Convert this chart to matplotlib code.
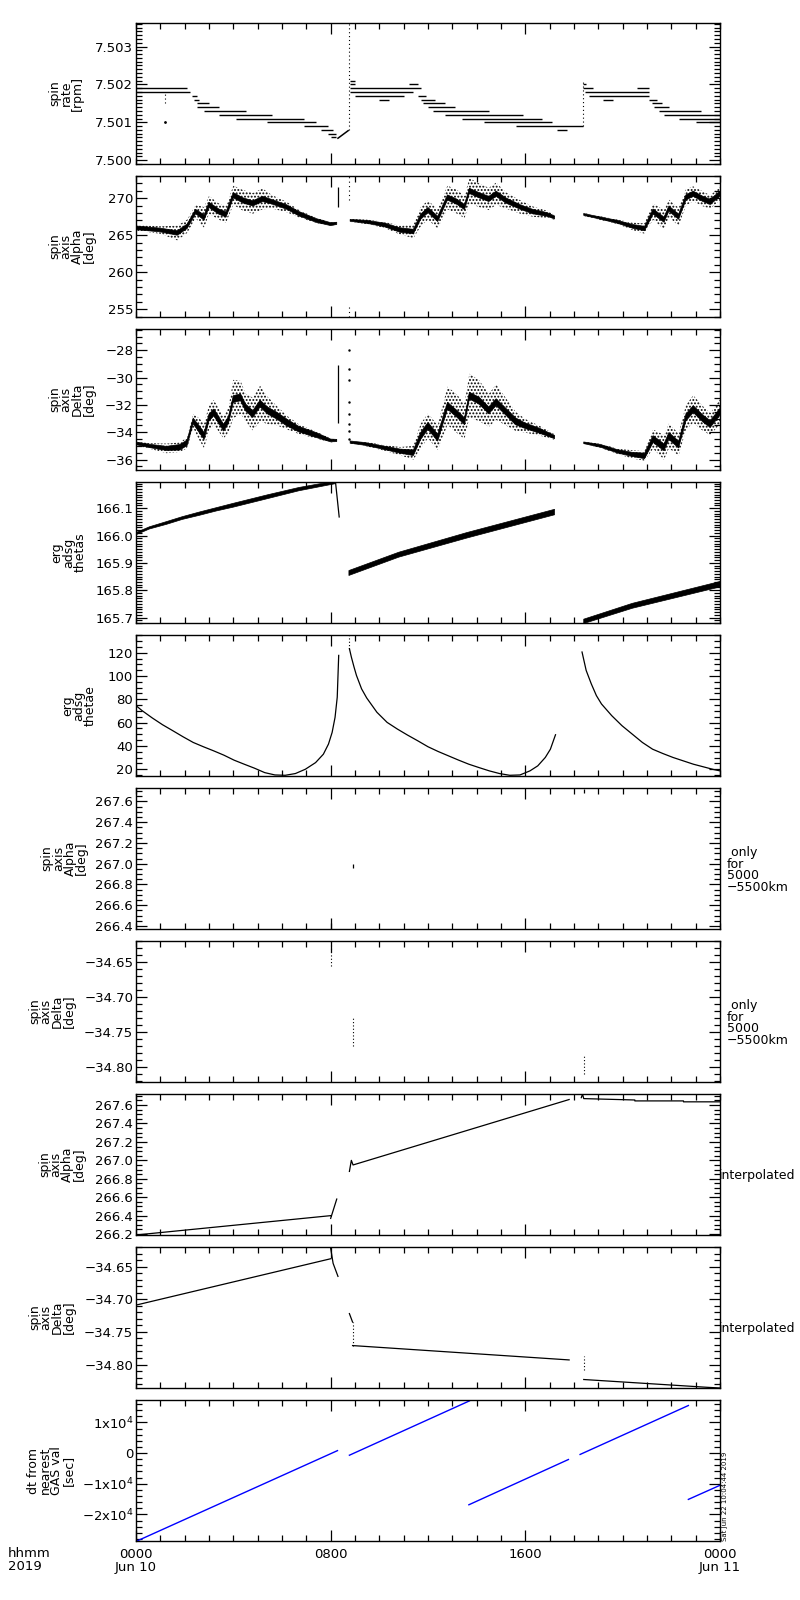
import numpy as np
import matplotlib
matplotlib.use("Agg")
import matplotlib.pyplot as plt
from matplotlib.ticker import MultipleLocator, FixedLocator, NullFormatter, FuncFormatter

plt.rcParams['font.family'] = ['DejaVu Sans']
plt.rcParams['hatch.linewidth'] = 0.9
nan = np.nan

# ---- panel 1: spin rate, quantised levels (level, t_start, t_end) in hours
rate_level = [7.5019, 7.5018, 7.5017, 7.5016, 7.5015, 7.5014, 7.5013, 7.5012, 7.5011,
              7.5010, 7.5009, 7.5008, 7.5007, 7.5006,
              7.5021, 7.5020, 7.5019, 7.5018, 7.5017, 7.5016,
              7.5020, 7.5017, 7.5016, 7.5015, 7.5014, 7.5013, 7.5012, 7.5011, 7.5010,
              7.5009, 7.5008,
              7.5020, 7.5019, 7.5019, 7.5018, 7.5017, 7.5016, 7.5016, 7.5015, 7.5014,
              7.5013, 7.5012, 7.5011, 7.5010]
rate_t0 = [0.0, 0.0, 2.3, 2.4, 2.5, 2.5, 2.8, 3.4, 4.1,
           5.4, 6.9, 7.6, 7.9, 8.0,
           8.8, 8.8, 8.8, 8.8, 9.0, 10.0,
           11.2, 11.6, 11.7, 11.8, 12.0, 12.2, 12.7, 13.4, 14.3,
           15.6, 17.3,
           18.35, 18.35, 20.6, 18.45, 18.6, 19.2, 21.1, 21.2, 21.3,
           21.5, 21.7, 22.3, 23.0]
rate_t1 = [2.1, 2.2, 2.5, 2.6, 3.0, 3.4, 4.5, 5.6, 6.9,
           7.4, 7.9, 8.1, 8.2, 8.2,
           9.0, 9.0, 11.7, 11.4, 11.0, 10.4,
           11.6, 11.9, 12.3, 12.7, 13.1, 14.5, 15.9, 16.7, 17.1,
           18.35, 17.7,
           18.5, 18.8, 21.1, 21.1, 21.1, 19.6, 21.4, 21.6, 21.9,
           23.2, 24.0, 24.0, 24.0]
rate_ramp_t = [8.3, 8.72]
rate_ramp_v = [7.50058, 7.50078]
rate_jump_t = [1.2, 8.76, 18.35]
rate_jump_lo = [7.5015, 7.5008, 7.5009]
rate_jump_hi = [7.5018, 7.50362, 7.5021]
rate_dot_t = [1.2]
rate_dot_v = [7.5010]

# ---- panel 2: spin axis alpha (centre, core half width, scatter half width)
alpha_t = [0, 1.0, 1.7, 2.1, 2.45, 2.8, 3.0, 3.4, 3.7, 4.0, 4.4, 4.8, 5.2, 5.6, 6.2, 6.7, 7.4, 8.0, 8.25, nan,
           8.8, 9.5, 10.2, 10.85, 11.4, 11.7, 12.0, 12.4, 12.8, 13.2, 13.5, 13.7, 14.1, 14.5, 14.8, 15.2,
           15.8, 16.3, 16.9, 17.2, nan,
           18.4, 19.1, 19.8, 20.4, 20.9, 21.25, 21.7, 21.9, 22.3, 22.6, 22.9, 23.3, 23.6, 24.0]
alpha_c = [266.0, 265.7, 265.3, 266.2, 268.2, 267.4, 269.1, 268.2, 267.8, 270.4, 269.7, 269.3, 269.9,
           269.5, 268.8, 267.9, 267.0, 266.5, 266.6, nan,
           267.0, 266.8, 266.4, 265.7, 265.5, 267.5, 268.4, 267.2, 270.1, 269.5, 268.8, 271.0, 270.4,
           269.9, 270.6, 269.7, 268.8, 268.2, 267.8, 267.4, nan,
           267.8, 267.3, 266.8, 266.2, 265.9, 268.2, 267.1, 268.6, 267.5, 270.1, 270.6, 269.9, 269.5, 270.6]
alpha_core = [0.25, 0.25, 0.3, 0.3, 0.3, 0.35, 0.35, 0.35, 0.35, 0.35, 0.35, 0.35, 0.35, 0.3, 0.3, 0.3, 0.25,
              0.2, 0.15, nan,
              0.12, 0.2, 0.25, 0.3, 0.3, 0.35, 0.35, 0.35, 0.35, 0.35, 0.35, 0.35, 0.35, 0.35, 0.35, 0.35,
              0.3, 0.3, 0.25, 0.2, nan,
              0.12, 0.15, 0.2, 0.25, 0.3, 0.35, 0.35, 0.35, 0.35, 0.35, 0.35, 0.35, 0.35, 0.35]
alpha_spread = [0.4, 0.5, 1.0, 0.9, 0.9, 1.4, 1.2, 1.1, 1.1, 1.3, 1.4, 1.4, 1.4, 0.9, 0.7, 0.5, 0.35, 0.25, 0.2, nan,
                0.2, 0.3, 0.4, 0.6, 0.9, 1.3, 1.3, 1.3, 1.6, 1.6, 1.5, 1.7, 1.6, 1.5, 1.5, 1.1,
                0.9, 0.7, 0.5, 0.3, nan,
                0.2, 0.25, 0.3, 0.5, 0.7, 1.1, 1.3, 1.2, 1.2, 1.1, 1.0, 1.0, 0.9, 0.9]
alpha_spike_t = [8.3, 8.75, 8.75]
alpha_spike_lo = [268.8, 269.8, 253.95]
alpha_spike_hi = [271.5, 273.0, 255.4]

# ---- panel 3: spin axis delta
delta_t = [0, 0.55, 1.25, 1.8, 2.1, 2.35, 2.6, 2.8, 3.0, 3.2, 3.6, 3.8, 4.0, 4.3, 4.5, 4.8, 5.1, 5.4, 5.8,
           6.2, 6.7, 7.4, 8.0, 8.25, nan,
           8.8, 9.4, 10.1, 10.85, 11.4, 11.7, 12.0, 12.4, 12.8, 13.2, 13.5, 13.7, 14.1, 14.5, 14.8, 15.2,
           15.6, 16.0, 16.6, 17.2, nan,
           18.4, 19.1, 19.8, 20.4, 20.9, 21.25, 21.7, 21.9, 22.3, 22.6, 22.9, 23.3, 23.6, 24.0]
delta_c = [-34.81, -35.0, -35.18, -35.1, -34.77, -33.17, -33.78, -34.27, -32.92, -32.55, -33.66, -33.1,
           -31.57, -31.45, -32.18, -32.67, -31.9, -32.4, -32.8, -33.29, -33.78, -34.2, -34.6, -34.6, nan,
           -34.72, -34.85, -35.1, -35.38, -35.5, -34.27, -33.53, -34.4, -32.06, -32.67, -33.2, -31.32,
           -31.69, -32.4, -31.8, -32.5, -33.2, -33.53, -33.9, -34.35, nan,
           -34.77, -35.0, -35.4, -35.62, -35.73, -34.5, -35.1, -34.27, -34.9, -32.92, -32.3, -33.0, -33.4, -32.5]
delta_core = [0.1, 0.12, 0.15, 0.2, 0.2, 0.2, 0.25, 0.25, 0.25, 0.25, 0.25, 0.25, 0.25, 0.25, 0.25, 0.25, 0.25,
              0.25, 0.25, 0.25, 0.2, 0.18, 0.1, 0.08, nan,
              0.08, 0.1, 0.12, 0.15, 0.2, 0.25, 0.25, 0.25, 0.25, 0.25, 0.25, 0.25, 0.25, 0.25, 0.25, 0.25,
              0.25, 0.2, 0.18, 0.12, nan,
              0.06, 0.1, 0.12, 0.15, 0.2, 0.25, 0.25, 0.25, 0.25, 0.25, 0.25, 0.25, 0.25, 0.25]
delta_spread = [0.15, 0.2, 0.35, 0.35, 0.4, 0.5, 0.8, 0.9, 0.9, 0.9, 0.8, 0.9, 1.4, 1.2, 1.0, 1.2, 1.3,
                1.0, 0.7, 0.5, 0.35, 0.25, 0.15, 0.1, nan,
                0.1, 0.15, 0.2, 0.3, 0.5, 0.9, 0.9, 0.9, 1.4, 1.4, 1.3, 1.6, 1.5, 1.2, 1.3, 1.0,
                0.7, 0.5, 0.35, 0.2, nan,
                0.08, 0.15, 0.2, 0.3, 0.35, 0.7, 0.9, 0.9, 0.8, 0.9, 1.0, 0.9, 0.8, 0.9]
delta_spike_t = [8.3]
delta_spike_lo = [-33.3]
delta_spike_hi = [-29.1]
delta_dot_t = [8.75] * 8
delta_dot_v = [-28.0, -29.4, -30.2, -31.8, -32.7, -33.4, -33.9, -34.5]

# ---- panel 4: erg adsg thetas
thetas_t = [0, 0.55, 1.25, 1.9, 2.6, 3.3, 4.0, 5.4, 6.7, 8.2, nan,
            8.75, 10.8, 13.6, 17.2, nan, 18.4, 20.4, 24.0]
thetas_v = [166.007, 166.028, 166.046, 166.064, 166.080, 166.096, 166.111, 166.142, 166.170, 166.195, nan,
            165.863, 165.930, 166.001, 166.086, nan, 165.686, 165.743, 165.822]
thetas_hw = [0.004, 0.004, 0.005, 0.005, 0.006, 0.006, 0.007, 0.007, 0.006, 0.005, nan,
             0.009, 0.009, 0.010, 0.010, nan, 0.008, 0.009, 0.010]
thetas_drop_t = [8.2, 8.35]
thetas_drop_v = [166.195, 166.068]

# ---- panel 5: erg adsg thetae
thetae_t = [0, 0.25, 0.67, 1.09, 1.51, 1.93, 2.35, 2.77, 3.19, 3.61, 4.03, 4.45, 4.87, 5.29, 5.71, 6.13,
            6.55, 6.96, 7.38, 7.70, 7.91, 8.06, 8.18, 8.27, 8.33, nan,
            8.77, 8.85, 8.96, 9.06, 9.27, 9.48, 9.90, 10.32, 10.74, 11.16, 11.58, 12.0, 12.42, 12.84,
            13.26, 13.68, 14.10, 14.52, 14.94, 15.36, 15.78, 16.19, 16.51, 16.82, 17.03, 17.24, nan,
            18.33, 18.50, 18.71, 18.92, 19.13, 19.55, 19.97, 20.39, 20.81, 21.23, 21.65, 22.07, 22.49,
            22.91, 23.33, 23.75, 24.0]
thetae_v = [74.6, 70.3, 64.0, 58.2, 53.1, 47.9, 43.0, 39.3, 35.8, 32.1, 27.8, 24.3, 20.9, 17.1, 15.1, 14.8,
            16.3, 20.0, 25.7, 32.9, 41.6, 51.6, 64.5, 81.8, 117.7, nan,
            123.5, 116.3, 107.7, 100.5, 89.0, 81.2, 68.9, 60.2, 54.5, 49.3, 44.4, 39.3, 35.2, 31.5,
            27.8, 24.3, 21.4, 18.6, 16.3, 14.8, 15.1, 18.6, 22.9, 30.1, 37.2, 49.6, nan,
            120.6, 104.8, 93.3, 83.2, 76.0, 66.0, 57.4, 50.2, 43.0, 37.2, 33.5, 30.1, 27.2,
            24.3, 22.0, 19.7, 18.6]
thetae_dot_t = [8.77]
thetae_dot_lo = [123.5]
thetae_dot_hi = [135.2]

# ---- panels 6/7: values only for 5000-5500 km
alpha_r_t = [8.0, 8.9, 18.4]
alpha_r_lo = [266.37, 266.96, 267.68]
alpha_r_hi = [266.43, 267.00, 267.72]
delta_r_t = [8.0, 8.9, 18.4]
delta_r_lo = [-34.656, -34.770, -34.810]
delta_r_hi = [-34.622, -34.730, -34.785]

# ---- panels 8/9: interpolated
alpha_i_t = [0, 8.0, nan, 8.0, 8.25, nan, 8.77, 8.85, 8.92, 17.8, nan,
             18.3, 18.35, 18.4, 20.5, 20.5, 22.5, 22.5, 24.0]
alpha_i_v = [266.19, 266.40, nan, 266.37, 266.58, nan, 266.88, 267.0, 266.95, 267.66, nan,
             267.68, 267.72, 267.67, 267.655, 267.645, 267.645, 267.635, 267.635]
delta_i_t = [0, 8.0, nan, 8.0, 8.1, 8.3, nan, 8.77, 8.9, nan, 8.9, 17.8, nan, 18.4, 23.5, 24.0]
delta_i_v = [-34.709, -34.638, nan, -34.622, -34.645, -34.665, nan, -34.722, -34.735, nan,
             -34.771, -34.793, nan, -34.823, -34.835, -34.836]
delta_i_dot_t = [8.9, 18.4]
delta_i_dot_lo = [-34.771, -34.809]
delta_i_dot_hi = [-34.735, -34.787]

# ---- panel 10: dt from nearest GAS value
dt_t = [0, 8.28, nan, 8.77, 13.7, nan, 13.68, 17.77, nan, 18.25, 22.7, nan, 22.7, 24.0]
dt_v = [-28800, 800, nan, -700, 17000, nan, -16850, -2100, nan, -450, 15500, nan, -15100, -10500]
dt_ticks = [-20000, -10000, 0, 10000]
dt_ticklabels = [r'$-$2x10$^4$', r'$-$1x10$^4$', '0', r'1x10$^4$']

ylabels = ["spin\nrate\n[rpm]", "spin\naxis\nAlpha\n[deg]", "spin\naxis\nDelta\n[deg]",
           "erg\nadsg\nthetas", "erg\nadsg\nthetae", "spin\naxis\nAlpha\n[deg]",
           "spin\naxis\nDelta\n[deg]", "spin\naxis\nAlpha\n[deg]", "spin\naxis\nDelta\n[deg]",
           "dt from\nnearest\nGAS val\n[sec]"]
ylabel_x = [-0.12, -0.11, -0.11, -0.116, -0.098, -0.123, -0.144, -0.127, -0.144, -0.146]
ylims = [(7.4999, 7.50362), (253.95, 273.0), (-36.76, -26.45), (165.680, 166.196), (14.2, 135.2),
         (266.37, 267.73), (-34.822, -34.620), (266.19, 267.72), (-34.836, -34.620), (-28660, 17300)]
ymajor = [0.001, 5, 2, 0.1, 20, 0.2, 0.05, 0.2, 0.05, 10000]
yminor = [0.0001, 1, 0.5, 0.01, 5, 0.05, 0.01, 0.05, 0.01, 2000]
yfmt = ["%.3f", "%d", "%d", "%.1f", "%d", "%.1f", "%.2f", "%.1f", "%.2f", None]
side_text = [None, None, None, None, None, " only\nfor\n5000\n\u22125500km", " only\nfor\n5000\n\u22125500km",
             "interpolated", "interpolated", None]

xtick_hours = [0, 8, 16, 24]
xtick_labels = ["0000\nJun 10", "0800", "1600", "0000\nJun 11"]


def minus_fmt(fmt):
    return FuncFormatter(lambda v, pos: (fmt % v).replace('-', '\u2212'))


fig = plt.figure(figsize=(8, 16), dpi=100)
W, H = 800.0, 1600.0
axes = []
for i in range(10):
    top = 23 + 153 * i
    ax = fig.add_axes([136 / W, 1 - (top + 141) / H, 584 / W, 141 / H])
    axes.append(ax)

FS = 9.5
for i, ax in enumerate(axes):
    ax.set_xlim(0, 24)
    ax.set_ylim(*ylims[i])
    ax.xaxis.set_major_locator(FixedLocator([8, 16]))
    ax.xaxis.set_minor_locator(MultipleLocator(1))
    ax.yaxis.set_major_locator(MultipleLocator(ymajor[i]))
    ax.yaxis.set_minor_locator(MultipleLocator(yminor[i]))
    ax.tick_params(which='both', direction='in', top=True, right=True, labelsize=FS,
                   width=0.9, pad=2)
    ax.tick_params(which='major', length=8)
    ax.tick_params(which='minor', length=4)
    ax.xaxis.set_major_formatter(NullFormatter())
    if yfmt[i]:
        ax.yaxis.set_major_formatter(minus_fmt(yfmt[i]))
    for s in ax.spines.values():
        s.set_linewidth(1.0)
    ax.text(ylabel_x[i], 0.5, ylabels[i], transform=ax.transAxes, rotation=90, ha='center',
            va='center', multialignment='center', fontsize=9, linespacing=0.85)
    if side_text[i]:
        if side_text[i] == "interpolated":
            ax.text(0.998, 0.42, side_text[i], transform=ax.transAxes, ha='left', va='center',
                    fontsize=9)
        else:
            ax.text(1.012, 0.42, side_text[i], transform=ax.transAxes, ha='left', va='center',
                    fontsize=9, linespacing=0.85)

LW = 0.9
# panel 1
ax = axes[0]
ax.hlines(rate_level, rate_t0, rate_t1, color='k', lw=1.0)
ax.plot(rate_ramp_t, rate_ramp_v, color='k', lw=1.1)
ax.vlines(rate_jump_t, rate_jump_lo, rate_jump_hi, color='k', lw=0.8, linestyles=(0, (1, 2.5)))
ax.plot(rate_dot_t, rate_dot_v, 'k.', ms=2)

# panel 2
ax = axes[1]
a_t = np.array(alpha_t); a_c = np.array(alpha_c)
a_core = np.array(alpha_core); a_sp = np.array(alpha_spread)
ax.fill_between(a_t, a_c - a_sp, a_c + a_sp, facecolor='none', edgecolor='k', hatch='.....', lw=0)
ax.fill_between(a_t, a_c - a_core, a_c + a_core, color='k', lw=0.5)
ax.vlines(alpha_spike_t[:1], alpha_spike_lo[:1], alpha_spike_hi[:1], color='k', lw=LW)
ax.vlines(alpha_spike_t[1:], alpha_spike_lo[1:], alpha_spike_hi[1:], color='k', lw=0.8,
          linestyles=(0, (1, 3)))

# panel 3
ax = axes[2]
d_t = np.array(delta_t); d_c = np.array(delta_c)
d_core = np.array(delta_core); d_sp = np.array(delta_spread)
ax.fill_between(d_t, d_c - d_sp, d_c + d_sp, facecolor='none', edgecolor='k', hatch='.....', lw=0)
ax.fill_between(d_t, d_c - d_core, d_c + d_core, color='k', lw=0.5)
ax.vlines(delta_spike_t, delta_spike_lo, delta_spike_hi, color='k', lw=LW)
ax.plot(delta_dot_t, delta_dot_v, 'k.', ms=1.5)

# panel 4
ax = axes[3]
s_t = np.array(thetas_t); s_v = np.array(thetas_v); s_hw = np.array(thetas_hw)
ax.fill_between(s_t, s_v - s_hw, s_v + s_hw, color='k', lw=0.5)
ax.plot(thetas_drop_t, thetas_drop_v, color='k', lw=LW)

# panel 5
ax = axes[4]
ax.plot(thetae_t, thetae_v, color='k', lw=LW)
ax.vlines(thetae_dot_t, thetae_dot_lo, thetae_dot_hi, color='k', lw=0.8, linestyles=(0, (1, 2)))

# panels 6, 7
axes[5].vlines(alpha_r_t, alpha_r_lo, alpha_r_hi, color='k', lw=LW)
axes[6].vlines(delta_r_t, delta_r_lo, delta_r_hi, color='k', lw=0.8, linestyles=(0, (1, 2)))

# panels 8, 9
axes[7].plot(alpha_i_t, alpha_i_v, color='k', lw=LW)
axes[8].plot(delta_i_t, delta_i_v, color='k', lw=LW)
axes[8].vlines(delta_i_dot_t, delta_i_dot_lo, delta_i_dot_hi, color='k', lw=0.8,
               linestyles=(0, (1, 2)))

# panel 10
ax = axes[9]
ax.plot(dt_t, dt_v, color='blue', lw=1.0)
ax.set_yticks(dt_ticks)
ax.set_yticklabels(dt_ticklabels)
ax.xaxis.set_major_locator(FixedLocator(xtick_hours))
ax.set_xticklabels(xtick_labels, fontsize=FS, linespacing=1.0)
ax.tick_params(axis='x', which='major', pad=5)
ax.text(1.003, 0.0, "Sat Jun 22 10:04:44 2019", transform=ax.transAxes, rotation=90,
        ha='left', va='bottom', fontsize=5)
fig.text(8 / W, 1 - 1560 / H, "hhmm\n2019", ha='left', va='center', fontsize=FS, linespacing=1.0)

fig.savefig("out.png", dpi=100)
